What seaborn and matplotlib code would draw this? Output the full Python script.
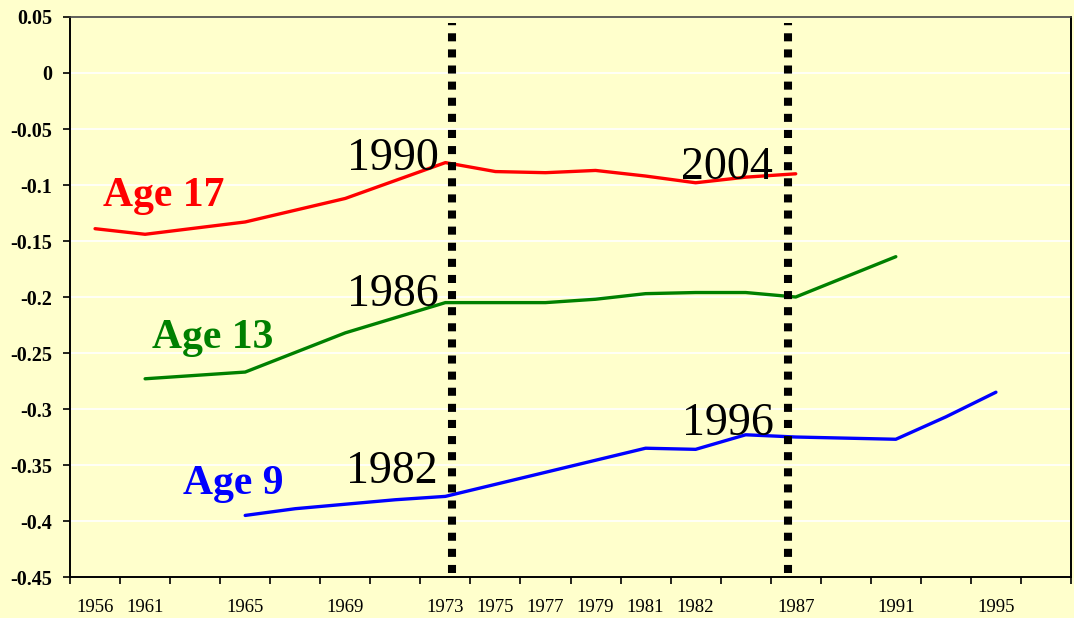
import numpy as np
import pandas as pd
import matplotlib
matplotlib.use('Agg')
import matplotlib.pyplot as plt
import seaborn as sns

# cohort labels on the category axis (blank = unlabeled category)
cohorts = ['1956', '1961', '', '1965', '', '1969', '', '1973', '1975', '1977',
           '1979', '1981', '1982', '', '1987', '', '1991', '', '1995', '']

nan = np.nan
age17 = [-0.139, -0.144, nan, -0.133, nan, -0.112, nan, -0.080, -0.088, -0.089,
         -0.087, -0.092, -0.098, -0.093, -0.090, nan, nan, nan, nan, nan]
age13 = [nan, -0.273, -0.270, -0.267, nan, -0.232, nan, -0.205, nan, -0.205,
         -0.202, -0.197, -0.196, -0.196, -0.200, nan, -0.164, nan, nan, nan]
age9 = [nan, nan, nan, -0.395, -0.389, nan, -0.381, -0.378, nan, nan,
        nan, -0.335, -0.336, -0.323, -0.325, nan, -0.327, -0.307, -0.285, nan]

series_names = ['Age 17', 'Age 13', 'Age 9']
series_colors = ['#FF0000', '#008000', '#0000FF']

y_ticks = [0.05, 0, -0.05, -0.1, -0.15, -0.2, -0.25, -0.3, -0.35, -0.4, -0.45]
y_labels = ['0.05', '0', '-0.05', '-0.1', '-0.15', '-0.2', '-0.25', '-0.3', '-0.35', '-0.4', '-0.45']

# long-form table, only the points that exist in each series
rows = []
for name, vals in zip(series_names, [age17, age13, age9]):
    for i, v in enumerate(vals):
        if not np.isnan(v):
            rows.append({'pos': i, 'value': v, 'series': name})
df = pd.DataFrame(rows)

sns.set_style('white')
plt.rcParams['font.family'] = ['Liberation Serif', 'DejaVu Serif']
plt.rcParams['axes.unicode_minus'] = False
plt.rcParams['text.color'] = 'black'
plt.rcParams['xtick.color'] = 'black'
plt.rcParams['ytick.color'] = 'black'

bg = '#FFFFCC'
fig = plt.figure(figsize=(10.74, 6.18), dpi=100, facecolor=bg)
ax = fig.add_axes([0.0652, 0.0663, 0.932, 0.9062])
ax.set_facecolor(bg)

sns.lineplot(data=df, x='pos', y='value', hue='series', hue_order=series_names,
             palette=series_colors, linewidth=2.4, legend=False, ax=ax, sort=True)

# vertical dotted markers
for xv in [7.13, 13.85]:
    ax.axvline(xv, color='black', linewidth=5.8, linestyle=(0, (1, 1)),
               dash_capstyle='butt', ymin=0.008, ymax=0.99)

ax.set_xlim(-0.5, 19.5)
ax.set_ylim(-0.45, 0.05)
ax.set_yticks(y_ticks)
ax.set_yticklabels(y_labels, fontweight='bold', fontsize=14.5, color='black')
ax.yaxis.grid(True, color='white', linewidth=1.2)
ax.set_axisbelow(True)

ax.set_xticks(np.arange(-0.5, 20, 1))
ax.set_xticklabels([])
ax.set_xticks(np.arange(20), minor=True)
ax.set_xticklabels(cohorts, minor=True, fontsize=13.5, color='black')
ax.tick_params(axis='x', which='major', bottom=True, length=5, width=1.2,
               color='black', direction='out')
ax.tick_params(axis='x', which='minor', bottom=True, length=0, pad=15.5)
ax.tick_params(axis='y', left=True, length=5, width=1.2, color='black',
               direction='out', pad=8)

ax.set_xlabel('')
ax.set_ylabel('')
for side in ['left', 'bottom', 'right']:
    ax.spines[side].set_color('black')
    ax.spines[side].set_linewidth(1.4)
ax.spines['top'].set_color('#444444')
ax.spines['top'].set_linewidth(1.2)

# series labels
ax.text(0.16, -0.119, 'Age 17', color='#FF0000', fontsize=30, fontweight='bold', ha='left', va='baseline')
ax.text(1.14, -0.2456, 'Age 13', color='#008000', fontsize=30, fontweight='bold', ha='left', va='baseline')
ax.text(1.76, -0.376, 'Age 9', color='#0000FF', fontsize=30, fontweight='bold', ha='left', va='baseline')

# year annotations
ax.text(6.86, -0.0866, '1990', fontsize=33, color='black', ha='right', va='baseline')
ax.text(6.86, -0.208, '1986', fontsize=33, color='black', ha='right', va='baseline')
ax.text(6.84, -0.366, '1982', fontsize=33, color='black', ha='right', va='baseline')
ax.text(13.56, -0.323, '1996', fontsize=33, color='black', ha='right', va='baseline')
ax.text(13.54, -0.0947, '2004', fontsize=33, color='black', ha='right', va='baseline')

plt.savefig('out.png', dpi=100, facecolor=bg)
plt.close()
